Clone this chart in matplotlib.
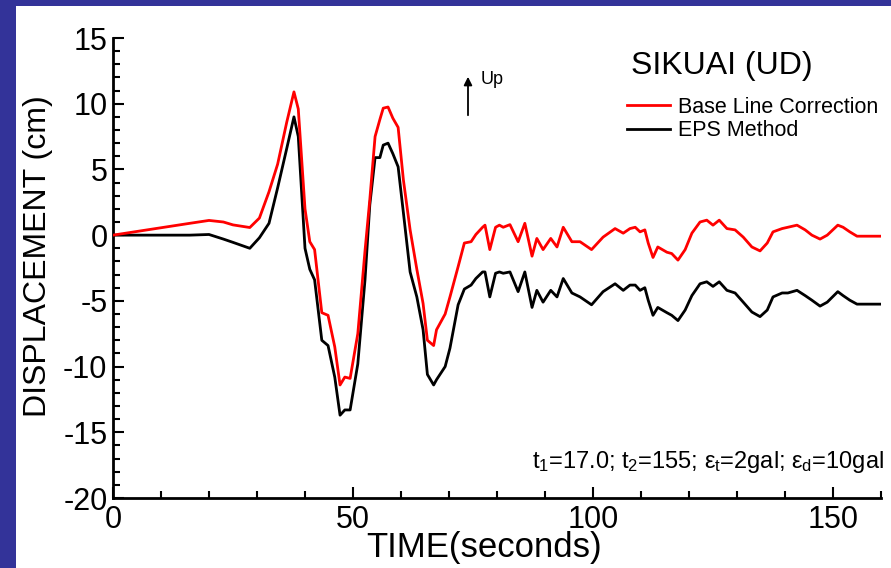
import matplotlib
matplotlib.use("Agg")
import matplotlib.pyplot as plt
from matplotlib.patches import Rectangle
from matplotlib.ticker import MultipleLocator

time_s = [0, 16, 20, 23, 25, 28.5, 30.5, 32.5, 34.3, 36.2, 37.7, 38.6, 40, 41, 42,
          43.5, 44.8, 46.2, 47.3, 48.3, 49.4, 51, 52.5, 53.5, 54.6, 55.6, 56.3, 57.3,
          58.3, 59.4, 60.5, 61.9, 63.3, 64.6, 65.5, 66.8, 67.4, 69.2, 70.2, 71.9, 73.2,
          74.6, 75.6, 77, 77.5, 78.5, 79.7, 80.5, 81.3, 82.7, 84.4, 85.8, 87.3, 88.3,
          89.6, 91.2, 92.5, 93.8, 95.6, 97.3, 99.7, 102.1, 104.6, 106.3, 107.7, 108.8,
          109.8, 110.8, 111.5, 112.5, 113.5, 115.4, 116.4, 117.7, 119.2, 120.6, 122.3,
          123.7, 125, 126.3, 127.9, 129.6, 131.3, 133.1, 134.8, 136.3, 137.5, 139.4,
          140.6, 142.5, 144.2, 145.6, 147.3, 148.8, 151, 152.1, 153.5, 155, 160]

base_line = [0, 0.9, 1.12, 1.0, 0.78, 0.58, 1.3, 3.3, 5.4, 8.6, 10.9, 9.6, 2.0, -0.5, -1.1,
             -5.9, -6.1, -8.5, -11.4, -10.8, -10.9, -7.5, -1.2, 2.7, 7.5, 8.8, 9.66, 9.75,
             8.9, 8.2, 4.2, 0.4, -2.6, -5.2, -8.0, -8.4, -7.2, -6.0, -4.7, -2.4, -0.6,
             -0.5, 0.05, 0.6, 0.76, -1.1, 0.6, 0.76, 0.6, 0.8, -0.5, 0.9, -1.6, -0.25,
             -1.1, -0.25, -0.9, 0.6, -0.5, -0.5, -1.1, -0.15, 0.5, 0.15, 0.5, 0.6,
             0.25, 0.4, -0.6, -1.7, -0.9, -1.3, -1.4, -1.9, -1.1, 0.15, 1.0,
             1.14, 0.76, 1.14, 0.5, 0.4, -0.15, -0.9, -1.2, -0.6, 0.25, 0.5,
             0.6, 0.76, 0.4, 0.0, -0.3, 0.0, 0.76, 0.6, 0.25, -0.08, -0.08]

eps_method = [0, 0, 0.05, -0.3, -0.55, -1.0, -0.2, 0.9, 3.6, 6.6, 9.0, 7.5, -1.0, -2.6, -3.4,
              -8.0, -8.4, -10.8, -13.7, -13.3, -13.3, -9.8, -3.4, 2.3, 5.9, 5.9, 6.85, 7.0,
              6.2, 5.2, 1.7, -2.8, -4.7, -7.2, -10.6, -11.4, -11.0, -10.0, -8.6, -5.3, -4.1,
              -3.8, -3.3, -2.8, -2.8, -4.7, -2.9, -2.8, -2.9, -2.8, -4.3, -2.8, -5.5, -4.2,
              -5.1, -4.2, -4.7, -3.3, -4.4, -4.7, -5.3, -4.3, -3.7, -4.2, -3.8, -3.8,
              -4.2, -4.0, -4.95, -6.1, -5.5, -5.9, -6.1, -6.5, -5.7, -4.6, -3.7,
              -3.55, -3.9, -3.55, -4.2, -4.4, -5.1, -5.85, -6.2, -5.7, -4.7, -4.4,
              -4.4, -4.2, -4.6, -4.95, -5.4, -5.1, -4.3, -4.6, -4.95, -5.25, -5.25]

series_labels = ["Base Line Correction", "EPS Method"]
x_ticks = [0, 50, 100, 150]
y_ticks = [-20, -15, -10, -5, 0, 5, 10, 15]

plt.rcParams['font.family'] = ['Liberation Sans', 'DejaVu Sans']
plt.rcParams['mathtext.fontset'] = 'custom'
plt.rcParams['mathtext.rm'] = 'Liberation Sans'
plt.rcParams['mathtext.it'] = 'Liberation Sans'
plt.rcParams['axes.unicode_minus'] = False

W, H = 891, 568
fig = plt.figure(figsize=(W / 100, H / 100), dpi=100)
fig.patch.set_facecolor('white')
# blue frame on the left and top
fig.patches.append(Rectangle((0, 0), 16 / W, 1, transform=fig.transFigure,
                             facecolor='#333399', edgecolor='none', zorder=-10))
fig.patches.append(Rectangle((0, 1 - 6 / H), 1, 6 / H, transform=fig.transFigure,
                             facecolor='#333399', edgecolor='none', zorder=-10))

ax = fig.add_axes([113 / W, 1 - 498 / H, 768 / W, 460 / H])
ax.set_facecolor('none')

ax.plot(time_s, base_line, color='#ff0000', lw=2.0, label=series_labels[0], zorder=3)
ax.plot(time_s, eps_method, color='black', lw=2.0, label=series_labels[1], zorder=2)

ax.set_xlim(0, 160)
ax.set_ylim(-20, 15)
ax.set_xticks(x_ticks)
ax.set_yticks(y_ticks)
ax.xaxis.set_minor_locator(MultipleLocator(10))
ax.yaxis.set_minor_locator(MultipleLocator(1))

for s in ['top', 'right']:
    ax.spines[s].set_visible(False)
for s in ['left', 'bottom']:
    ax.spines[s].set_linewidth(2.0)

ax.tick_params(axis='both', which='major', direction='in', length=8, width=1.5,
               labelsize=22)
ax.tick_params(axis='both', which='minor', direction='in', length=5, width=1.5)
ax.tick_params(axis='x', which='major', pad=5)
ax.tick_params(axis='y', which='major', pad=4)

ax.set_xlabel('TIME(seconds)', fontsize=25, va='center', ha='center')
ax.xaxis.set_label_coords((484 - 113) / 768, (498 - 548) / 460)
ax.set_ylabel('DISPLACEMENT (cm)', fontsize=23, va='center', ha='center')
ax.yaxis.set_label_coords((38 - 113) / 768, (498 - 256) / 460)

ax.text((721.5 - 113) / 768, (498 - 66) / 460, 'SIKUAI (UD)', transform=ax.transAxes,
        fontsize=23, ha='center', va='center')

leg = ax.legend(loc='upper left', bbox_to_anchor=((627 - 113) / 768, (498 - 97) / 460),
                frameon=False, fontsize=15.5, handlelength=2.0, handletextpad=0.35,
                borderpad=0, borderaxespad=0, labelspacing=0.1)

ax.annotate('', xy=((468 - 113) / 768, (498 - 74) / 460),
            xytext=((468 - 113) / 768, (498 - 118) / 460),
            xycoords='axes fraction', textcoords='axes fraction',
            arrowprops=dict(arrowstyle='-|>', color='black', lw=1.3, mutation_scale=12))
ax.text((481 - 113) / 768, (498 - 80) / 460, 'Up', transform=ax.transAxes,
        fontsize=13, ha='left', va='center')

ax.text((884 - 113) / 768, (498 - 462) / 460,
        r'$t_1\text{=17.0; }t_2\text{=155; }\epsilon_t\text{=2gal; }\epsilon_d\text{=10gal}$',
        transform=ax.transAxes, fontsize=17, ha='right', va='center')

fig.savefig('out.png', dpi=100, facecolor=fig.get_facecolor())
